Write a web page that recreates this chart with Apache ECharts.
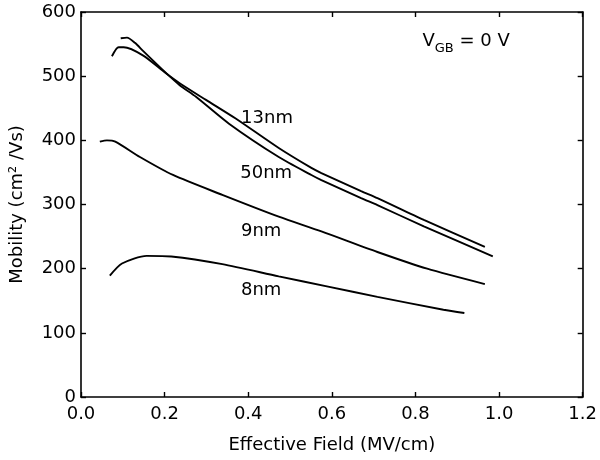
<!DOCTYPE html>
<html>
<head>
<meta charset="utf-8">
<script src="https://cdn.jsdelivr.net/npm/echarts@6/dist/echarts.min.js"></script>
<style>html,body{margin:0;padding:0;background:#fff}#c{width:600px;height:460px}</style>
</head>
<body>
<div id="c"></div>
<script>
// Data (x: MV/cm, y: cm2/Vs)
var s13nm = [[0.074,531],[0.090,545],[0.102,545],[0.149,532],[0.200,506],[0.236,489],[0.299,463],[0.370,434],[0.473,388],[0.551,357],[0.575,349],[0.670,321],[0.709,310],[0.820,276],[0.966,234]];
var s50nm = [[0.095,559],[0.110,560],[0.129,552],[0.149,539],[0.200,507],[0.236,486],[0.275,468],[0.354,426],[0.473,374],[0.551,346],[0.575,338],[0.670,310],[0.709,299],[0.820,266],[0.985,219]];
var s9nm  = [[0.045,398],[0.062,400],[0.082,398],[0.141,374],[0.220,346],[0.338,315],[0.473,281],[0.575,258],[0.709,226],[0.828,200],[0.966,176]];
var s8nm  = [[0.069,189],[0.098,208],[0.157,220],[0.216,219],[0.338,207],[0.473,188],[0.591,172],[0.709,156],[0.867,136],[0.917,131]];
var seriesNames = ['13nm','50nm','9nm','8nm'];
var labelPos = [[0.445,434],[0.443,348],[0.431,258],[0.431,167]];
var annotPos = [0.921,555];
var xTicks = {min:0, max:1.2, interval:0.2};
var yTicks = {min:0, max:600, interval:100};

var FONT = 'DejaVu Sans';
var chart = echarts.init(document.getElementById('c'), null, {renderer:'canvas'});
var lineStyle = {color:'#000', width:1.9};
function lineSeries(name, data){
  return {type:'line', name:name, data:data, showSymbol:false, symbol:'none', smooth:0.25,
    lineStyle:lineStyle, itemStyle:{color:'#000'}, xAxisIndex:0, yAxisIndex:0, silent:true, z:3};
}
var axisCommon = {
  axisLine:{show:true, onZero:false, lineStyle:{color:'#000', width:1.6}},
  axisTick:{show:true, inside:true, length:5, lineStyle:{color:'#000', width:1.4}},
  splitLine:{show:false}
};
var txt = {fontFamily:FONT, fontSize:18, color:'#000', opacity:1, textBorderWidth:0};
var labelData = labelPos.map(function(p,i){ return {value:p, name:seriesNames[i]}; });
var option = {
  animation:false,
  backgroundColor:'#fff',
  grid:{left:77, right:16, top:12, bottom:63, containLabel:false},
  xAxis:[
    Object.assign({type:'value', position:'bottom', min:xTicks.min, max:xTicks.max, interval:xTicks.interval,
      name:'Effective Field (MV/cm)', nameLocation:'middle', nameGap:39,
      nameTextStyle:{fontFamily:FONT, fontSize:18, color:'#000'},
      axisLabel:{fontFamily:FONT, fontSize:18, color:'#000', margin:8, formatter:function(v){return v.toFixed(1);}}
    }, axisCommon),
    Object.assign({type:'value', position:'top', min:xTicks.min, max:xTicks.max, interval:xTicks.interval,
      axisLabel:{show:false}}, axisCommon)
  ],
  yAxis:[
    Object.assign({type:'value', position:'left', min:yTicks.min, max:yTicks.max, interval:yTicks.interval,
      name:'Mobility (cm\u00B2 /Vs)', nameLocation:'middle', nameGap:55,
      nameTextStyle:{fontFamily:FONT, fontSize:18, color:'#000'},
      axisLabel:{fontFamily:FONT, fontSize:18, color:'#000', margin:5}
    }, axisCommon),
    Object.assign({type:'value', position:'right', min:yTicks.min, max:yTicks.max, interval:yTicks.interval,
      axisLabel:{show:false}}, axisCommon)
  ],
  series:[
    lineSeries('13nm', s13nm),
    lineSeries('50nm', s50nm),
    lineSeries('9nm', s9nm),
    lineSeries('8nm', s8nm),
    {type:'scatter', data:labelData, symbolSize:0, silent:true, z:4,
      itemStyle:{opacity:1, color:'#000'},
      label:Object.assign({show:true, position:'inside', formatter:'{b}'}, txt)},
    {type:'scatter', data:[{value:annotPos, name:'VGB'}], symbolSize:0, silent:true, z:4,
      itemStyle:{opacity:1, color:'#000'},
      label:{show:true, position:'inside', color:'#000', opacity:1, textBorderWidth:0,
        formatter:'{v|V}{s|GB}{v| = 0 V}',
        rich:{
          v:{fontFamily:FONT, fontSize:18, color:'#000', lineHeight:28, verticalAlign:'middle'},
          s:{fontFamily:FONT, fontSize:13, color:'#000', lineHeight:14, verticalAlign:'bottom'}
        }}}
  ]
};
chart.setOption(option);
</script>
</body>
</html>
